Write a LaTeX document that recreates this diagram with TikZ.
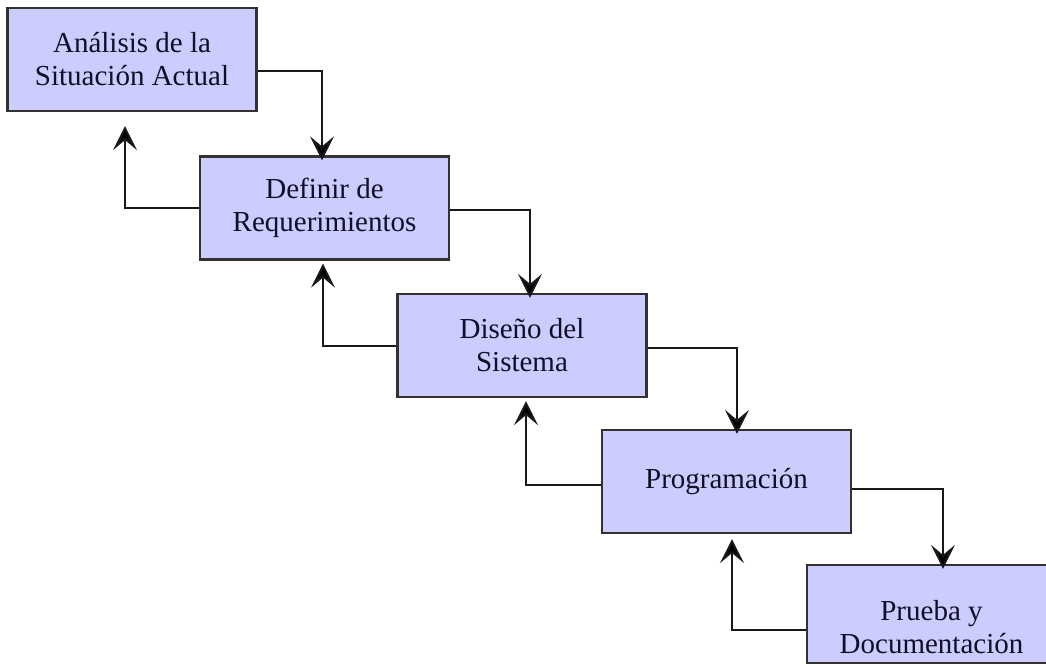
\documentclass[tikz,border=0pt]{standalone}
\usepackage{fontspec}
\setmainfont{Liberation Serif}
\newfontfamily\stageface{Liberation Serif}
\usetikzlibrary{arrows.meta,calc}
\definecolor{boxfill}{RGB}{204,204,255}
\definecolor{boxline}{RGB}{50,50,50}
\definecolor{wire}{RGB}{25,25,25}
\definecolor{ink}{RGB}{15,15,40}
\tikzset{
  stage/.style={draw=boxline, line width=2.2pt, fill=boxfill, rectangle,
    minimum width=249pt, minimum height=103pt, inner sep=0pt,
    align=center, text=ink, font=\stageface\fontsize{29}{33}\selectfont},
  caption/.style={align=center, text=ink, font=\stageface\fontsize{29}{33}\selectfont, inner sep=0pt},
  flow/.style={draw=wire, line width=2pt,
    -{Stealth[length=24pt, width=24pt, inset=10pt, fill=black]}}
}
\begin{document}
\begin{tikzpicture}[x=1pt, y=-1pt]
\useasboundingbox (0,0) rectangle (1046,666);

% the five phases, stepping down to the right
\node[stage] (b1) at (132,59.5) {Análisis de la\\Situación Actual};
\node[stage] (b2) at (324.5,208) {Definir de\\Requerimientos};
\node[stage] (b3) at (522,345.5) {Diseño del\\Sistema};
\node[stage] (b4) at (726.5,481.5) {Programación};
\node[stage, minimum height=98pt] (b5) at (931.5,614) {};
\node[caption] (b5t) at (931.5,627) {Prueba y\\Documentación};

% forward flow: out of the right side, down into the next phase
\draw[flow] ([yshift=-11.5pt]b1.east) -| ([xshift=-2.5pt, yshift=-5pt]b2.north);
\draw[flow] ([yshift=-2pt]b2.east) -| ([xshift=8pt, yshift=-5pt]b3.north);
\draw[flow] ([yshift=-2.5pt]b3.east) -| ([xshift=10.5pt, yshift=-5pt]b4.north);
\draw[flow] ([yshift=-7.5pt]b4.east) -| ([xshift=11.5pt, yshift=-5pt]b5.north);

% feedback: out of the left side, back up to the previous phase
\draw[flow] (b2.west) -| ([xshift=-7pt, yshift=-14pt]b1.south);
\draw[flow] (b3.west) -| ([xshift=-1.5pt, yshift=-3pt]b2.south);
\draw[flow] ([yshift=-3.5pt]b4.west) -| ([xshift=4pt, yshift=-3pt]b3.south);
\draw[flow] ([yshift=-16pt]b5.west) -| ([xshift=5.5pt, yshift=-5pt]b4.south);
\end{tikzpicture}
\end{document}
